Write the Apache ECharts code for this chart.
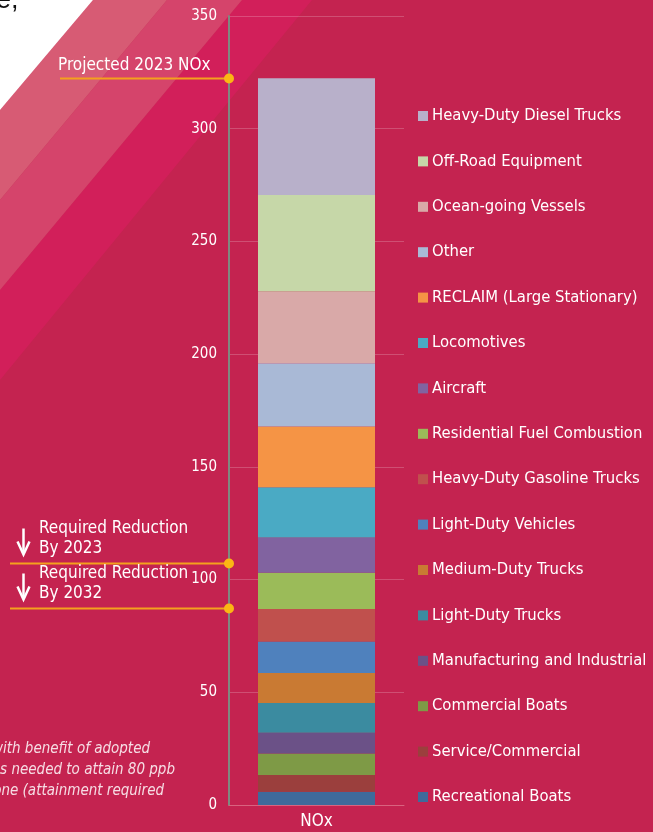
<!DOCTYPE html>
<html>
<head>
<meta charset="utf-8">
<script src="https://cdn.jsdelivr.net/npm/echarts@6/dist/echarts.min.js"></script>
<style>
  html, body { margin: 0; padding: 0; background: #c42350; }
  #chart { width: 653px; height: 832px; }
</style>
</head>
<body>
<div id="chart"></div>
<script>
// categories on the x axis
const categories = ['NOx'];

// sources, bottom of the stack first
const sourceNames = [
  'Recreational Boats',
  'Service/Commercial',
  'Commercial Boats',
  'Manufacturing and Industrial',
  'Light-Duty Trucks',
  'Medium-Duty Trucks',
  'Light-Duty Vehicles',
  'Heavy-Duty Gasoline Trucks',
  'Residential Fuel Combustion',
  'Aircraft',
  'Locomotives',
  'RECLAIM (Large Stationary)',
  'Other',
  'Ocean-going Vessels',
  'Off-Road Equipment',
  'Heavy-Duty Diesel Trucks'
];
const sourceValues = [5.9, 7.4, 9.5, 9.2, 13.3, 13.3, 13.9, 14.5, 16.0, 15.7, 22.2, 27.0, 28.1, 31.8, 42.8, 51.8];
const palette = [
  '#3f6a9b', '#9b3f3d', '#7e9a46', '#6b5187', '#3b8ba0', '#c97a33', '#4f81bd', '#c0504d',
  '#9bbb59', '#8163a0', '#4aaac4', '#f59445', '#a9b9d6', '#d9a9a8', '#c6d7a8', '#b8b0ca'
];

// y axis ticks
const yMin = 0, yMax = 350, yStep = 50;

// reference lines on the left
const markerValues = [322.4, 107.3, 87.2];
const markerLabels = [['Projected 2023 NOx'], ['Required Reduction', 'By 2023'], ['Required Reduction', 'By 2032']];

const narrow = "'Liberation Sans Narrow', 'DejaVu Sans Condensed', 'Roboto', sans-serif";

const chartDom = document.getElementById('chart');
const myChart = echarts.init(chartDom);

const series = sourceNames.map(function (name, i) {
  return {
    name: name,
    type: 'bar',
    stack: 'total',
    barWidth: 117,
    itemStyle: { color: palette[i] },
    emphasis: { disabled: true },
    data: [sourceValues[i]]
  };
});

const option = {
  backgroundColor: '#c42350',
  animation: false,
  grid: { left: 229, right: 249, top: 16, bottom: 27 },
  legend: {
    orient: 'vertical',
    left: 418,
    top: 106,
    padding: 0,
    itemWidth: 10,
    itemHeight: 10,
    itemGap: 25.4,
    icon: 'rect',
    selectedMode: false,
    data: sourceNames.slice().reverse(),
    textStyle: { color: '#ffffff', fontSize: 16.5, fontFamily: narrow, lineHeight: 20, padding: [0, 0, 0, -1] }
  },
  xAxis: {
    type: 'category',
    data: categories,
    axisTick: { show: false },
    axisLine: { lineStyle: { color: '#d9637f', width: 1 } },
    axisLabel: { color: '#ffffff', fontSize: 17, fontFamily: narrow, margin: 8 }
  },
  yAxis: {
    type: 'value',
    min: yMin,
    max: yMax,
    interval: yStep,
    axisLine: { show: true, lineStyle: { color: '#7e8a80', width: 2 } },
    axisTick: { show: false },
    splitLine: { lineStyle: { color: 'rgba(255,255,255,0.2)', width: 1 } },
    axisLabel: { color: '#ffffff', fontSize: 15, fontFamily: narrow, margin: 12 }
  },
  series: series
};

myChart.setOption(option);

// background bands, annotation lines and side texts
const axisX = 229;
const graphics = [];
const bands = [
  { pts: [[312, 0], [653, 0], [653, 832], [0, 832], [0, 380]], fill: '#c42350' },
  { pts: [[242, 0], [312, 0], [0, 380], [0, 290]], fill: '#d21f5a' },
  { pts: [[167, 0], [242, 0], [0, 290], [0, 200]], fill: '#d5446b' },
  { pts: [[93, 0], [167, 0], [0, 200], [0, 110]], fill: '#d75b74' },
  { pts: [[0, 0], [93, 0], [0, 110]], fill: '#ffffff' }
];
bands.forEach(function (b) {
  graphics.push({ type: 'polygon', z: -10, silent: true, shape: { points: b.pts }, style: { fill: b.fill } });
});
graphics.push({
  type: 'text', z: -5, left: -4, top: -13, silent: true,
  style: { text: 'e,', fill: '#111111', font: '27px "Liberation Sans", sans-serif' }
});

const lineStarts = [60, 10, 10];
markerValues.forEach(function (v, i) {
  const y = Math.round(myChart.convertToPixel({ yAxisIndex: 0 }, v)) + 0.5;
  graphics.push({
    type: 'line', z: 20, silent: true,
    shape: { x1: lineStarts[i], y1: y, x2: axisX, y2: y },
    style: { stroke: '#f4a11d', lineWidth: 2 }
  });
  graphics.push({
    type: 'circle', z: 21, silent: true,
    shape: { cx: axisX, cy: y, r: 5 },
    style: { fill: '#fbb614' }
  });
  const lines = markerLabels[i];
  const font = '17px ' + narrow;
  if (lines.length === 1) {
    graphics.push({
      type: 'text', z: 20, silent: true, x: 58, y: y - 13,
      style: { text: lines[0], fill: '#ffffff', font: font, textVerticalAlign: 'middle' }
    });
  } else {
    const top = y - 35;
    graphics.push({
      type: 'text', z: 20, silent: true, x: 39, y: top,
      style: { text: lines[0], fill: '#ffffff', font: font, textVerticalAlign: 'middle' }
    });
    graphics.push({
      type: 'text', z: 20, silent: true, x: 39, y: top + 20,
      style: { text: lines[1], fill: '#ffffff', font: font, textVerticalAlign: 'middle' }
    });
    // down arrow
    graphics.push({
      type: 'line', z: 20, silent: true,
      shape: { x1: 23.5, y1: top, x2: 23.5, y2: top + 25 },
      style: { stroke: '#ffffff', lineWidth: 2.5 }
    });
    graphics.push({
      type: 'polyline', z: 20, silent: true,
      shape: { points: [[17.5, top + 13], [23.5, top + 26], [29.5, top + 13]] },
      style: { stroke: '#ffffff', lineWidth: 2.5, fill: null }
    });
  }
});

const noteLines = ['emissions with benefit of adopted', 'measures needed to attain 80 ppb', '8-hour ozone (attainment required'];
const noteRight = [150, 175, 164];
noteLines.forEach(function (t, i) {
  graphics.push({
    type: 'text', z: 20, silent: true, x: noteRight[i], y: 749 + i * 21,
    style: { text: t, fill: '#f6dde4', font: 'italic 15px ' + narrow, textAlign: 'right', textVerticalAlign: 'middle' }
  });
});

myChart.setOption({ graphic: graphics });
</script>
</body>
</html>
